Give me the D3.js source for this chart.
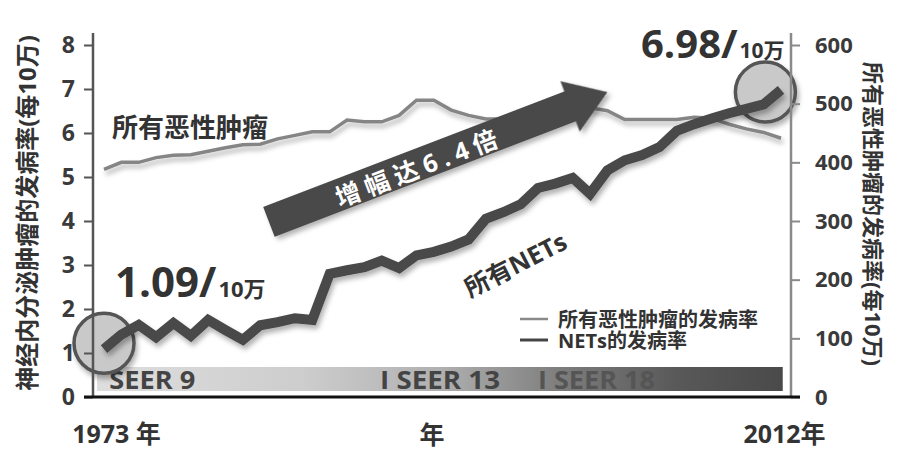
<!DOCTYPE html>
<html>
<head>
<meta charset="utf-8">
<script src="https://cdn.jsdelivr.net/npm/d3@7"></script>
<style>
  body { margin: 0; background: #fff; }
  svg { font-family: "Open Sans", "Noto Sans CJK SC", sans-serif; font-weight: 700; }
</style>
</head>
<body>
<svg id="chart"></svg>
<script>
// years on the x axis
const years = [1973, 1974, 1975, 1976, 1977, 1978, 1979, 1980, 1981, 1982,
  1983, 1984, 1985, 1986, 1987, 1988, 1989, 1990, 1991, 1992,
  1993, 1994, 1995, 1996, 1997, 1998, 1999, 2000, 2001, 2002,
  2003, 2004, 2005, 2006, 2007, 2008, 2009, 2010, 2011, 2012];

// NETs incidence (per 100k, left axis)
const netRates = [1.09, 1.42, 1.64, 1.36, 1.68, 1.39, 1.75, 1.52, 1.30, 1.63,
  1.70, 1.79, 1.75, 2.80, 2.88, 2.95, 3.10, 2.93, 3.22, 3.30,
  3.42, 3.58, 4.05, 4.20, 4.38, 4.75, 4.85, 4.98, 4.62, 5.15,
  5.38, 5.50, 5.68, 6.05, 6.20, 6.33, 6.45, 6.55, 6.65, 6.98];

// all malignant tumours incidence (per 100k, right axis)
const cancerRates = [388, 400, 400, 408, 412, 413, 419, 425, 430, 431,
  440, 446, 452, 452, 472, 469, 469, 480, 506, 506,
  489, 480, 474, 474, 478, 484, 488, 491, 493, 488,
  473, 473, 473, 473, 477, 475, 465, 457, 451, 441];

const leftTicks = [0, 1, 2, 3, 4, 5, 6, 7, 8];
const rightTicks = [0, 100, 200, 300, 400, 500, 600];

// SEER registry periods shown in the bottom band
const seerLabels = ['SEER 9', 'I SEER 13', 'I SEER 18'];
const seerYears = [1973.3, 1988.9, 1998.0];

const legendLabels = ['所有恶性肿瘤的发病率', 'NETs的发病率'];

// highlighted points: start and end of NETs series
const highlights = [
  { year: 1973, value: 1.22, text: '1.09/' },
  { year: 2011.1, value: 6.93, text: '6.98/' },
];

// set viewport size
const width = 897;
const height = 466;

const x = d3.scaleLinear().domain([1973, 2012]).range([104, 781]);
const yL = d3.scaleLinear().domain([0, 8]).range([397, 45]);
const yR = d3.scaleLinear().domain([0, 600]).range([397, 45]);

const axisLX = 93;
const axisRX = 791;

const svg = d3.select('#chart').attr('width', width).attr('height', height);

const defs = svg.append('defs');
const shadow = defs.append('filter').attr('id', 'shadow')
  .attr('x', '-10%').attr('y', '-10%').attr('width', '130%').attr('height', '140%');
shadow.append('feDropShadow')
  .attr('dx', 2).attr('dy', 4).attr('stdDeviation', 2.5)
  .attr('flood-color', '#000').attr('flood-opacity', 0.3);

const grad = defs.append('linearGradient').attr('id', 'seerGrad');
[[0, '#dedede'], [0.3, '#cdcdcd'], [0.5, '#b0b0b0'], [0.68, '#7c7c7c'], [0.85, '#585858'], [1, '#4a4a4a']]
  .forEach(s => grad.append('stop').attr('offset', s[0]).attr('stop-color', s[1]));

// SEER band
svg.append('rect')
  .attr('x', x(1972.6)).attr('y', 367)
  .attr('width', x(2012.1) - x(1972.6)).attr('height', 24)
  .attr('fill', 'url(#seerGrad)');

svg.append('g').selectAll('text')
  .data(seerLabels)
  .join('text')
  .attr('x', (d, i) => x(seerYears[i]))
  .attr('y', 389)
  .attr('font-size', 25)
  .attr('fill', (d, i) => (i === 2 ? '#555' : '#444'))
  .attr('textLength', (d, i) => [86, 120, 117][i])
  .attr('lengthAdjust', 'spacingAndGlyphs')
  .text(d => d);

// highlight circles
svg.append('g').selectAll('circle')
  .data(highlights)
  .join('circle')
  .attr('cx', d => x(d.year))
  .attr('cy', d => yL(d.value))
  .attr('r', 30)
  .attr('fill', '#c9c9c9')
  .attr('stroke', '#555')
  .attr('stroke-width', 3.5)
  .attr('filter', 'url(#shadow)');

// axes
const yAxisLeft = d3.axisLeft(yL).tickValues(leftTicks).tickSize(9).tickPadding(9);
svg.append('g')
  .attr('transform', `translate(${axisLX},0)`)
  .call(yAxisLeft)
  .attr('font-family', null).attr('font-size', null)
  .call(g => g.select('.domain').remove())
  .call(g => g.selectAll('line').attr('stroke', '#555').attr('stroke-width', 2))
  .call(g => g.selectAll('text').attr('font-size', 23).attr('fill', '#3a3a3a'));

svg.append('line')
  .attr('x1', axisLX).attr('x2', axisLX).attr('y1', 33).attr('y2', 397)
  .attr('stroke', '#555').attr('stroke-width', 2.5);

const yAxisRight = d3.axisRight(yR).tickValues(rightTicks).tickSize(9).tickPadding(15);
svg.append('g')
  .attr('transform', `translate(${axisRX},0)`)
  .call(yAxisRight)
  .attr('font-family', null).attr('font-size', null)
  .call(g => g.select('.domain').remove())
  .call(g => g.selectAll('line').attr('stroke', '#8a8a8a').attr('stroke-width', 2))
  .call(g => g.selectAll('text').attr('font-size', 22).attr('fill', '#3a3a3a'));

svg.append('line')
  .attr('x1', axisRX).attr('x2', axisRX).attr('y1', 33).attr('y2', 397)
  .attr('stroke', '#8a8a8a').attr('stroke-width', 2.5);

const xAxis = d3.axisBottom(x).tickValues([1973, 2012])
  .tickFormat(d => (d === 1973 ? '1973 年' : '2012年'))
  .tickSize(0).tickPadding(28);
svg.append('g')
  .attr('transform', 'translate(0,397)')
  .call(xAxis)
  .attr('font-family', null).attr('font-size', null)
  .call(g => g.select('.domain').remove())
  .call(g => g.selectAll('text').attr('font-size', 25).attr('fill', '#333')
    .attr('dx', d => (d === 1973 ? 12 : 3)));

svg.append('line')
  .attr('x1', 84).attr('x2', 800).attr('y1', 397).attr('y2', 397)
  .attr('stroke', '#111').attr('stroke-width', 3);

svg.append('text')
  .attr('x', 432).attr('y', 444)
  .attr('text-anchor', 'middle')
  .attr('font-size', 25).attr('fill', '#333')
  .text('年');

// axis titles
svg.append('text')
  .attr('transform', 'translate(26,213) rotate(-90)')
  .attr('text-anchor', 'middle').attr('dominant-baseline', 'central')
  .attr('font-size', 24).attr('fill', '#333')
  .text('神经内分泌肿瘤的发病率(每10万)');

svg.append('text')
  .attr('transform', 'translate(874,214) rotate(90)')
  .attr('text-anchor', 'middle').attr('dominant-baseline', 'central')
  .attr('font-size', 22).attr('fill', '#333')
  .text('所有恶性肿瘤的发病率(每10万)');

// growth arrow
const tail = [x(1982.5), yL(3.98)];
const tip = [x(2002), yL(6.93)];
const arrowLen = Math.hypot(tip[0] - tail[0], tip[1] - tail[1]);
const arrowAngle = Math.atan2(tip[1] - tail[1], tip[0] - tail[0]) * 180 / Math.PI;
const shaftHalf = 16;
const headHalf = 27;
const headLen = 40;

const arrow = svg.append('g')
  .attr('transform', `translate(${tail[0]},${tail[1]}) rotate(${arrowAngle})`);

arrow.append('path')
  .attr('d', d3.line()([
    [0, -shaftHalf], [arrowLen - headLen, -shaftHalf], [arrowLen - headLen, -headHalf],
    [arrowLen, 0], [arrowLen - headLen, headHalf], [arrowLen - headLen, shaftHalf], [0, shaftHalf],
  ]) + 'Z')
  .attr('fill', '#4a4a4a')
  .attr('filter', 'url(#shadow)');

arrow.append('text')
  .attr('x', 160).attr('y', 2)
  .attr('text-anchor', 'middle').attr('dominant-baseline', 'central')
  .attr('font-size', 25).attr('fill', '#fff')
  .attr('letter-spacing', 6)
  .text('增幅达6.4倍');

// lines
const cancerLine = d3.line()
  .x((d, i) => x(years[i]))
  .y(d => yR(d));

const netLine = d3.line()
  .x((d, i) => x(years[i]))
  .y(d => yL(d));

svg.append('path')
  .datum(cancerRates)
  .attr('d', cancerLine)
  .attr('fill', 'none')
  .attr('stroke', '#858585')
  .attr('stroke-width', 3.5)
  .attr('filter', 'url(#shadow)');

// the arrow head sits over the grey line in the original
arrow.raise();

svg.append('path')
  .datum(netRates)
  .attr('d', netLine)
  .attr('fill', 'none')
  .attr('stroke', '#484848')
  .attr('stroke-width', 10)
  .attr('stroke-linejoin', 'miter')
  .attr('filter', 'url(#shadow)');

// series labels
svg.append('text')
  .attr('x', 112).attr('y', 137)
  .attr('font-size', 26).attr('fill', '#333')
  .text('所有恶性肿瘤');

svg.append('text')
  .attr('transform', 'translate(470,298) rotate(-27)')
  .attr('font-size', 25).attr('fill', '#333')
  .text('所有NETs');

// value callouts
const callouts = svg.append('g');
callouts.append('text')
  .attr('x', 115).attr('y', 297)
  .attr('fill', '#333')
  .call(t => t.append('tspan').attr('font-size', 42).text(highlights[0].text))
  .call(t => t.append('tspan').attr('font-size', 22).attr('dx', 2).text('10万'));

callouts.append('text')
  .attr('x', 641).attr('y', 58)
  .attr('fill', '#333')
  .call(t => t.append('tspan').attr('font-size', 40).text(highlights[1].text))
  .call(t => t.append('tspan').attr('font-size', 21).attr('dx', 2).text('10万'));

// legend
const legend = svg.append('g').attr('transform', 'translate(520,319)');
const legendItems = legend.selectAll('g')
  .data(legendLabels)
  .join('g')
  .attr('transform', (d, i) => `translate(0,${i * 21})`);

legendItems.append('line')
  .attr('x1', 0).attr('x2', 28)
  .attr('stroke', (d, i) => (i === 0 ? '#8a8a8a' : '#444'))
  .attr('stroke-width', (d, i) => (i === 0 ? 2.5 : 3));

legendItems.append('text')
  .attr('x', 38)
  .attr('dominant-baseline', 'central')
  .attr('font-size', 20)
  .attr('fill', '#333')
  .text(d => d);
</script>
</body>
</html>
